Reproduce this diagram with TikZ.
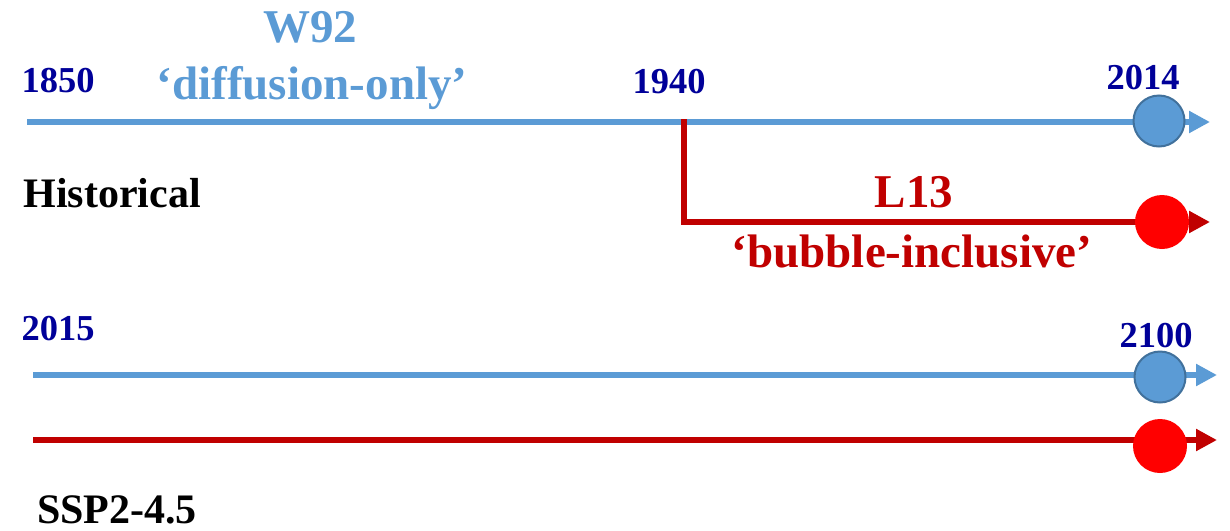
\documentclass[tikz,border=0pt]{standalone}
\usepackage{fontspec}
\setmainfont{Liberation Serif}
\usetikzlibrary{arrows.meta}

\definecolor{lineblue}{HTML}{5B9BD5}
\definecolor{rimblue}{HTML}{41719C}
\definecolor{yearblue}{HTML}{000099}
\definecolor{darkred}{HTML}{C00000}
\definecolor{brightred}{HTML}{FF0000}

\tikzset{
  txt/.style={inner sep=0pt, anchor=base, font=\bfseries},
  year/.style={txt, text=yearblue, font=\bfseries\fontsize{36.5}{40}\selectfont},
  caption/.style={txt, text=black, font=\bfseries\fontsize{42}{46}\selectfont},
  bluelabel/.style={txt, text=lineblue, font=\bfseries\fontsize{47}{52}\selectfont},
  redlabel/.style={txt, text=darkred, font=\bfseries\fontsize{47}{52}\selectfont},
  blueline/.style={draw=lineblue, line width=6pt, -{Triangle[length=21pt,width=21pt]}},
  redline/.style={draw=darkred, line width=6.5pt, -{Triangle[length=21pt,width=21pt]}},
  bluedot/.style={circle, fill=lineblue, draw=rimblue, line width=2pt, minimum size=51pt, inner sep=0pt},
  reddot/.style={circle, fill=brightred, minimum size=54pt, inner sep=0pt},
}

\begin{document}
\begin{tikzpicture}[x=1pt, y=-1pt]
  \useasboundingbox (0,0) rectangle (1230,530);

  % historical period
  \coordinate (h0) at (27,122);
  \coordinate (h1) at (1210,122);
  \coordinate (fork) at (684,119);
  \coordinate (bend) at (684,222);
  \coordinate (r1) at (1210,222);

  \draw[blueline] (h0) -- (h1);
  \draw[redline, line join=miter] (fork) -- (bend) -- (r1);
  \node[bluedot] (hb) at (1159,121) {};
  \node[reddot] (hr) at (1162,222) {};

  \node[year] (y1850) at (58,92) {1850};
  \node[year] (y1940) at (669,93) {1940};
  \node[year] (y2014) at (1143,89) {2014};
  \node[bluelabel] (w92) at (310,42) {W92};
  \node[bluelabel] (w92d) at (312,99) {‘diffusion-only’};
  \node[caption] (hist) at (112,207) {Historical};
  \node[redlabel] (l13) at (914,207) {L13};
  \node[redlabel] (l13d) at (912,267) {‘bubble-inclusive’};

  % scenario period
  \coordinate (s0) at (33,375);
  \coordinate (s1) at (1217,375);
  \coordinate (t0) at (33,440);
  \coordinate (t1) at (1217,440);

  \draw[blueline] (s0) -- (s1);
  \draw[redline] (t0) -- (t1);
  \node[bluedot] (sb) at (1160,377) {};
  \node[reddot] (sr) at (1160,446) {};

  \node[year] (y2015) at (58,340) {2015};
  \node[year] (y2100) at (1156,347) {2100};
  \node[caption] (ssp) at (117,523) {SSP2-4.5};
\end{tikzpicture}
\end{document}
